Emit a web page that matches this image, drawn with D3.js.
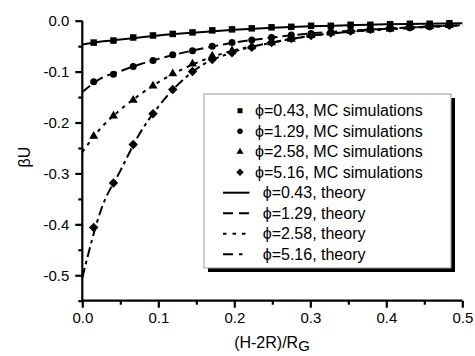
<!DOCTYPE html>
<html><head><meta charset="utf-8">
<script src="https://cdn.jsdelivr.net/npm/d3@7"></script>
<style>
html,body{margin:0;padding:0;background:#fff;}
svg{display:block;font-family:"Liberation Sans",Arial,sans-serif;}
</style></head>
<body><svg id="chart" width="475" height="356"></svg>
<script>
// ---- data ----
const xMC = [0.015,0.041,0.067,0.093,0.119,0.145,0.171,0.197,0.223,0.249,0.275,0.301,0.327,0.353,0.379,0.405,0.431,0.457,0.483];
const mc043 = [-0.043,-0.039,-0.033,-0.029,-0.026,-0.023,-0.019,-0.017,-0.015,-0.013,-0.012,-0.010,-0.010,-0.008,-0.008,-0.007,-0.006,-0.006,-0.005];
const mc129 = [-0.120,-0.105,-0.090,-0.078,-0.067,-0.059,-0.050,-0.043,-0.038,-0.033,-0.028,-0.025,-0.022,-0.020,-0.018,-0.016,-0.014,-0.012,-0.009];
const mc258 = [-0.227,-0.187,-0.156,-0.128,-0.104,-0.085,-0.069,-0.059,-0.051,-0.043,-0.036,-0.029,-0.024,-0.020,-0.018,-0.016,-0.013,-0.011,-0.009];
const mc516 = [-0.406,-0.319,-0.243,-0.183,-0.135,-0.100,-0.076,-0.063,-0.052,-0.043,-0.035,-0.029,-0.024,-0.020,-0.017,-0.014,-0.012,-0.010,-0.009];
const xTheory = [0,0.025,0.05,0.075,0.1,0.15,0.2,0.25,0.3,0.35,0.4,0.45,0.5];
const th043 = [-0.047,-0.041,-0.037,-0.033,-0.029,-0.023,-0.018,-0.014,-0.011,-0.009,-0.007,-0.006,-0.005];
const th129 = [-0.140,-0.113,-0.099,-0.086,-0.075,-0.057,-0.043,-0.033,-0.025,-0.020,-0.016,-0.012,-0.009];
const th258 = [-0.258,-0.210,-0.175,-0.146,-0.121,-0.083,-0.058,-0.043,-0.030,-0.022,-0.017,-0.013,-0.009];
const th516 = [-0.505,-0.370,-0.295,-0.223,-0.169,-0.095,-0.061,-0.043,-0.030,-0.022,-0.016,-0.012,-0.009];
const phiLabels = ["0.43","1.29","2.58","5.16"];
const xTicks = [0,0.1,0.2,0.3,0.4,0.5];
const xMinor = [0.05,0.15,0.25,0.35,0.45];
const yTicks = [0,-0.1,-0.2,-0.3,-0.4,-0.5];
const yMinor = [-0.05,-0.15,-0.25,-0.35,-0.45,-0.55];

// ---- layout ----
const svg = d3.select("#chart");
const x = d3.scaleLinear().domain([0,0.5]).range([82.3,462.3]);
const y = d3.scaleLinear().domain([-0.55,0]).range([300.7,20.7]);

const markerTypes = ["square","circle","triangle","diamond"];
const dashes = [null,"10,5","3.5,5","10,4,3.5,4"];
const mcSets = [mc043,mc129,mc258,mc516];
const thSets = [th043,th129,th258,th516];
const fmt = d => d3.format(".1f")(d).replace("−","-");

function symPath(type, s){
  if(type==="square") return d3.symbol(d3.symbolSquare, s*s)();
  if(type==="circle") return d3.symbol(d3.symbolCircle, Math.PI*s*s/4)();
  if(type==="triangle") return d3.symbol(d3.symbolTriangle, Math.sqrt(3)/4*s*s)();
  return d3.symbol(d3.symbolSquare, s*s/2)(); // diamond, rotated later
}

// theory lines
const line = d3.line().x(d=>x(d[0])).y(d=>y(d[1])).curve(d3.curveMonotoneX);
thSets.forEach((arr,i)=>{
  svg.append("path")
    .datum(xTheory.map((v,j)=>[v,arr[j]]))
    .attr("d",line).attr("fill","none").attr("stroke","#000")
    .attr("stroke-width",2)
    .attr("stroke-dasharray",dashes[i]);
});

// markers
const sizes = [6.5,7,9,9.5];
mcSets.forEach((arr,i)=>{
  svg.append("g").selectAll("path").data(xMC.map((v,j)=>[v,arr[j]])).join("path")
    .attr("d",symPath(markerTypes[i],sizes[i]))
    .attr("transform",d=>`translate(${x(d[0])},${y(d[1])})`+(markerTypes[i]==="diamond"?" rotate(45)":""))
    .attr("fill","#000");
});

// axes
const gx = svg.append("g").attr("transform",`translate(0,${y(-0.55)})`);
gx.call(d3.axisBottom(x).tickValues(xTicks).tickFormat(fmt).tickSize(7).tickPadding(5));
gx.append("g").call(d3.axisBottom(x).tickValues(xMinor).tickFormat("").tickSize(4));
const gy = svg.append("g").attr("transform",`translate(${x(0)},0)`);
gy.call(d3.axisLeft(y).tickValues(yTicks).tickFormat(fmt).tickSize(7).tickPadding(6));
gy.append("g").call(d3.axisLeft(y).tickValues(yMinor).tickFormat("").tickSize(4));
[gx,gy].forEach(g=>{
  g.selectAll(".domain").attr("stroke","#000").attr("stroke-width",2.2);
  g.selectAll("line").attr("stroke","#000").attr("stroke-width",2.2);
  g.selectAll("text").attr("font-size",15).attr("fill","#000").attr("font-family","Liberation Sans, Arial, sans-serif");
});
gx.selectAll(".domain").attr("d",`M${x(0)},0H${x(0.5)}`);
gy.selectAll(".domain").attr("d",`M0,${y(0)}V${y(-0.55)}`);
gx.selectAll("g").selectAll(".domain").remove();
gy.selectAll("g").selectAll(".domain").remove();

// axis titles
const xt = svg.append("text").attr("x",272).attr("y",348).attr("text-anchor","middle")
  .attr("font-size",16).attr("fill","#000");
xt.append("tspan").text("(H-2R)/R");
xt.append("tspan").attr("font-size",15).attr("dy",3).text("G");
svg.append("text").attr("transform","translate(30,157) rotate(-90)")
  .attr("text-anchor","middle").attr("font-size",16).attr("fill","#000").text("βU");

// legend
const lg = svg.append("g");
lg.append("rect").attr("x",208).attr("y",98).attr("width",247).attr("height",174).attr("fill","#000");
lg.append("rect").attr("x",204).attr("y",94).attr("width",247).attr("height",174)
  .attr("fill","#fff").attr("stroke","#999").attr("stroke-width",1);
const rowY = [110.7,131.2,151.7,172.2,192.7,213.2,233.7,254.2];
const legSizes = [5,5.5,7,7.5];
phiLabels.forEach((p,i)=>{
  lg.append("path").attr("d",symPath(markerTypes[i],legSizes[i]))
    .attr("transform",`translate(240,${rowY[i]})`+(markerTypes[i]==="diamond"?" rotate(45)":""))
    .attr("fill","#000");
  lg.append("text").attr("x",255).attr("y",rowY[i]).attr("dy","0.35em")
    .attr("font-size",16).attr("fill","#000").text(`ϕ=${p}, MC simulations`);
});
phiLabels.forEach((p,i)=>{
  const r = rowY[i+4];
  lg.append("line").attr("x1",223).attr("x2",249.5).attr("y1",r).attr("y2",r)
    .attr("stroke","#000").attr("stroke-width",2).attr("stroke-dasharray",i===0?null:(i===1?"10,6":(i===2?"3.5,6":"10,6,3.5,10")));
  lg.append("text").attr("x",262.7).attr("y",r).attr("dy","0.35em")
    .attr("font-size",16).attr("fill","#000").text(`ϕ=${p}, theory`);
});
</script></body></html>
